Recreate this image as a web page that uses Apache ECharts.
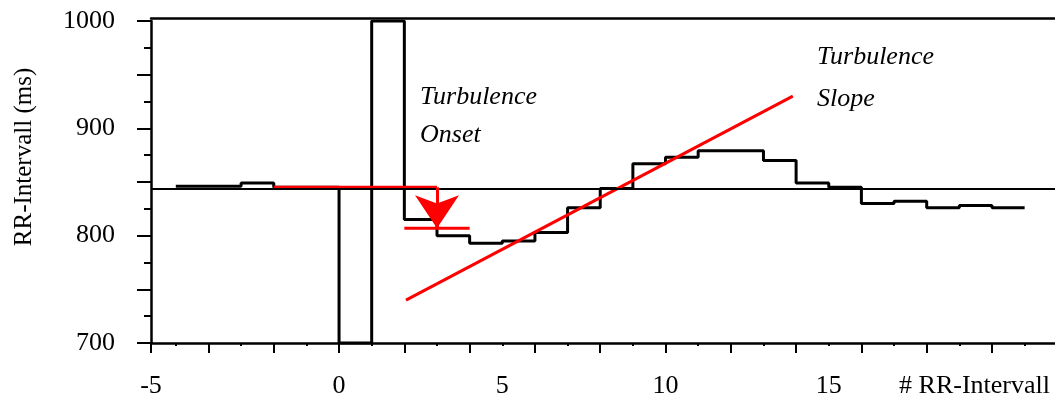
<!DOCTYPE html>
<html>
<head>
<meta charset="utf-8">
<style type="text/css">
body {margin: 0; background-color: #fff}
</style>
</head>
<body>
<div id="main" style="width:1055px;height:401px;"></div>

<script src="https://cdn.jsdelivr.net/npm/echarts@6/dist/echarts.min.js"></script>
<script type="text/javascript">

// beat index (RR interval #) and RR interval length in ms
var beats = [-5, -4, -3, -2, -1, 0, 1, 2, 3, 4, 5, 6, 7, 8, 9, 10, 11, 12, 13, 14, 15, 16, 17, 18, 19, 20];
var rrValues = [846, 846, 849, 845, 845, 700, 1000, 815, 800, 793, 795, 803, 826, 844, 867, 873, 879, 879, 870, 849, 845, 830, 832, 826, 828, 826];

var meanRR = 844;

// turbulence onset: mean of the two beats before and after the PVC
var preAverage = [[-2, 845], [3, 845]];
var postAverage = [[2, 807], [4, 807]];
var onsetArrow = [[3, 845], [3, 807]];

// turbulence slope: regression line
var slopeLine = [[2.05, 740], [13.9, 930]];

// axis ticks
var xMin = -5.76, xMax = 21.93;
var xMajorTicks = [xMin, -4, -2, 0, 2, 4, 6, 8, 10, 12, 14, 16, 18, 20];
var xMinorTicks = [-5, -3, -1, 1, 3, 5, 7, 9, 11, 13, 15, 17, 19, 21];
var xLabelValues = [xMin, 0, 5, 10, 15];
var xLabelTexts = ['-5', '0', '5', '10', '15'];
var yLabelValues = [700, 800, 900, 1000];

var stepData = beats.map(function (b, i) { return [b, rrValues[i]]; });
stepData.push([beats[beats.length - 1] + 1, rrValues[rrValues.length - 1]]);

var FONT = 'Liberation Serif';
var red = '#ff0000';

var myChart = echarts.init(document.getElementById('main'));

option = {
    animation: false,
    backgroundColor: '#fff',
    grid: { left: 151, right: 0, top: 21, bottom: 58 },
    xAxis: [{
        type: 'value',
        position: 'bottom',
        min: xMin,
        max: xMax,
        splitLine: { show: false },
        axisLine: { onZero: false, lineStyle: { color: '#000', width: 2.5 } },
        axisTick: { customValues: xMajorTicks, length: 10, lineStyle: { color: '#000', width: 2 } },
        axisLabel: {
            customValues: xLabelValues,
            margin: 30,
            color: '#000',
            fontFamily: FONT,
            fontSize: 26,
            formatter: function (v) {
                var i = xLabelValues.indexOf(v);
                return i >= 0 ? xLabelTexts[i] : '';
            }
        },
        name: '# RR-Intervall',
        nameLocation: 'end',
        nameGap: -5,
        nameTextStyle: {
            color: '#000', fontFamily: FONT, fontSize: 26,
            align: 'right', verticalAlign: 'top', padding: [30, 0, 0, 0]
        }
    }, {
        type: 'value',
        position: 'bottom',
        min: xMin,
        max: xMax,
        splitLine: { show: false },
        axisLine: { show: false, onZero: false },
        axisTick: { customValues: xMinorTicks, length: 3, lineStyle: { color: '#000', width: 2 } },
        axisLabel: { show: false }
    }, {
        type: 'value',
        position: 'top',
        offset: 3,
        min: xMin,
        max: xMax,
        splitLine: { show: false },
        axisLine: { onZero: false, lineStyle: { color: '#000', width: 2.5 } },
        axisTick: { show: false },
        axisLabel: { show: false }
    }],
    yAxis: {
        type: 'value',
        min: 700,
        max: 1000,
        interval: 50,
        splitLine: { show: false },
        axisLine: { show: true, onZero: false, lineStyle: { color: '#000', width: 2.5 } },
        axisTick: { show: true, length: 14, lineStyle: { color: '#000', width: 2 } },
        minorTick: { show: true, splitNumber: 2, length: 7, lineStyle: { color: '#000', width: 2 } },
        axisLabel: {
            customValues: yLabelValues,
            margin: 36,
            color: '#000',
            fontFamily: FONT,
            fontSize: 26,
            formatter: function (v) { return String(v); }
        },
        name: 'RR-Intervall (ms)',
        nameLocation: 'middle',
        nameGap: 114,
        nameTextStyle: {
            color: '#000', fontFamily: FONT, fontSize: 25,
            padding: [0, 0, 0, 50]
        }
    },
    series: [{
        type: 'line',
        step: 'end',
        data: stepData,
        symbol: 'none',
        lineStyle: { color: '#000', width: 3 },
        z: 3,
        markLine: {
            silent: true,
            symbol: 'none',
            label: { show: false },
            lineStyle: { color: '#000', width: 2, type: 'solid' },
            data: [{ yAxis: meanRR }]
        }
    }, {
        type: 'line',
        data: preAverage,
        symbol: 'none',
        lineStyle: { color: red, width: 3 },
        z: 4
    }, {
        type: 'line',
        data: postAverage,
        symbol: 'none',
        lineStyle: { color: red, width: 3 },
        z: 4
    }, {
        type: 'line',
        data: slopeLine,
        symbol: 'none',
        lineStyle: { color: red, width: 3 },
        z: 4
    }, {
        type: 'lines',
        coordinateSystem: 'cartesian2d',
        symbol: ['none', 'arrow'],
        symbolSize: [24, 33],
        symbolOffset: [0, [0, '50%']],
        lineStyle: { color: red, width: 3, opacity: 1 },
        itemStyle: { color: red },
        data: [{ coords: onsetArrow }],
        z: 5
    }],
    graphic: [
        { type: 'text', left: 420, top: 84, style: { text: 'Turbulence', fill: '#000', fontFamily: FONT, fontSize: 26, fontStyle: 'italic' } },
        { type: 'text', left: 420, top: 122, style: { text: 'Onset', fill: '#000', fontFamily: FONT, fontSize: 26, fontStyle: 'italic' } },
        { type: 'text', left: 817, top: 44, style: { text: 'Turbulence', fill: '#000', fontFamily: FONT, fontSize: 26, fontStyle: 'italic' } },
        { type: 'text', left: 817, top: 86, style: { text: 'Slope', fill: '#000', fontFamily: FONT, fontSize: 26, fontStyle: 'italic' } }
    ]
};

myChart.setOption(option);
</script>
</body>
</html>
